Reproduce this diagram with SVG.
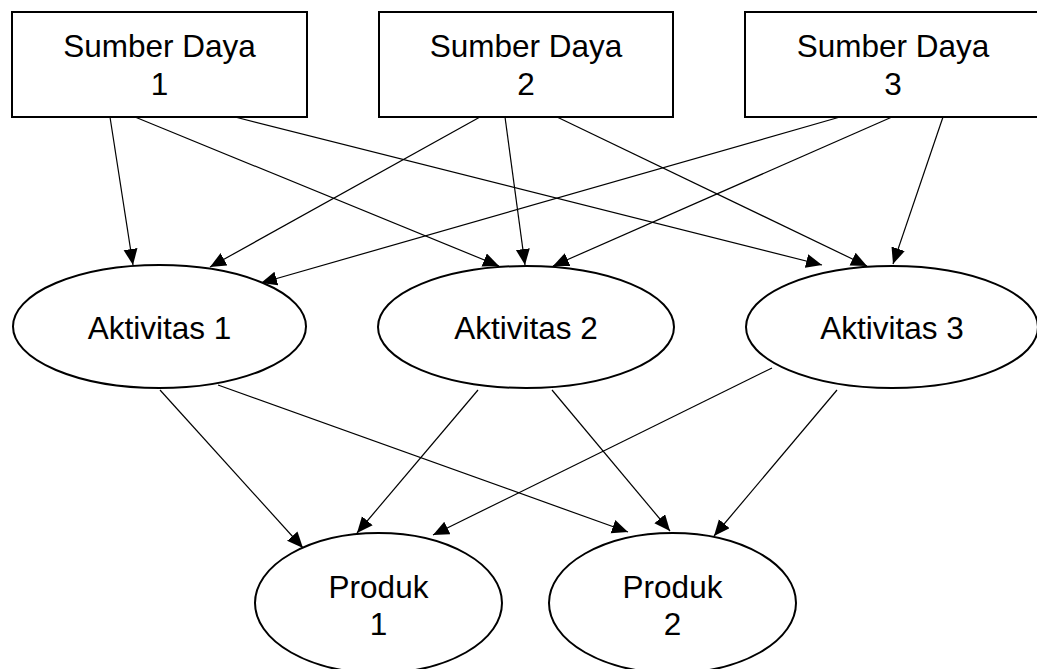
<svg xmlns="http://www.w3.org/2000/svg" width="1037" height="669" viewBox="0 0 1037 669">
<style>
.node{fill:#fff;stroke:#000;stroke-width:2}
.lbl{font-family:"Liberation Sans",Arial,sans-serif;font-size:31.5px;fill:#000;text-anchor:middle}
.edge{stroke:#000;stroke-width:1.2;fill:none;marker-end:url(#arr)}
</style>
<defs>
<marker id="arr" markerUnits="userSpaceOnUse" markerWidth="17" markerHeight="15" refX="16" refY="7" orient="auto">
<path d="M0,0 L16,7 L0,14 z" fill="#000"/>
</marker>
</defs>
<rect width="1037" height="669" fill="#fff"/>
<g id="connectors">
<line class="edge" x1="110" y1="117" x2="133" y2="265"/>
<line class="edge" x1="135" y1="117" x2="499" y2="266"/>
<line class="edge" x1="235" y1="117" x2="822" y2="265"/>
<line class="edge" x1="480" y1="117" x2="210" y2="267"/>
<line class="edge" x1="505" y1="117" x2="525" y2="265"/>
<line class="edge" x1="557" y1="117" x2="867" y2="266"/>
<line class="edge" x1="840" y1="117" x2="261" y2="283"/>
<line class="edge" x1="892" y1="117" x2="553" y2="266"/>
<line class="edge" x1="943" y1="117" x2="893" y2="264"/>
<line class="edge" x1="160" y1="390" x2="303" y2="548"/>
<line class="edge" x1="218" y1="385" x2="628" y2="532"/>
<line class="edge" x1="478" y1="390" x2="357" y2="533"/>
<line class="edge" x1="552" y1="390" x2="670" y2="531"/>
<line class="edge" x1="772" y1="368" x2="433" y2="535"/>
<line class="edge" x1="837" y1="390" x2="714" y2="536"/>
</g>
<g id="sd1"><rect class="node" x="12" y="12" width="295" height="105"/><text class="lbl" x="159.5" y="57">Sumber Daya</text><text class="lbl" x="159.5" y="95">1</text></g>
<g id="sd2"><rect class="node" x="379" y="12" width="294" height="105"/><text class="lbl" x="526" y="57">Sumber Daya</text><text class="lbl" x="526" y="95">2</text></g>
<g id="sd3"><rect class="node" x="745" y="12" width="296" height="105"/><text class="lbl" x="893" y="57">Sumber Daya</text><text class="lbl" x="893" y="95">3</text></g>
<g id="ak1"><ellipse class="node" cx="159.5" cy="326.5" rx="146.5" ry="61.5"/><text class="lbl" x="159.5" y="339">Aktivitas 1</text></g>
<g id="ak2"><ellipse class="node" cx="526" cy="327" rx="148" ry="61"/><text class="lbl" x="526" y="339">Aktivitas 2</text></g>
<g id="ak3"><ellipse class="node" cx="892" cy="327" rx="146" ry="61"/><text class="lbl" x="892" y="339">Aktivitas 3</text></g>
<g id="pr1"><ellipse class="node" cx="378.5" cy="603" rx="123.5" ry="70"/><text class="lbl" x="378.5" y="598">Produk</text><text class="lbl" x="378.5" y="635">1</text></g>
<g id="pr2"><ellipse class="node" cx="672.5" cy="603" rx="123.5" ry="70"/><text class="lbl" x="672.5" y="598">Produk</text><text class="lbl" x="672.5" y="635">2</text></g>
</svg>
